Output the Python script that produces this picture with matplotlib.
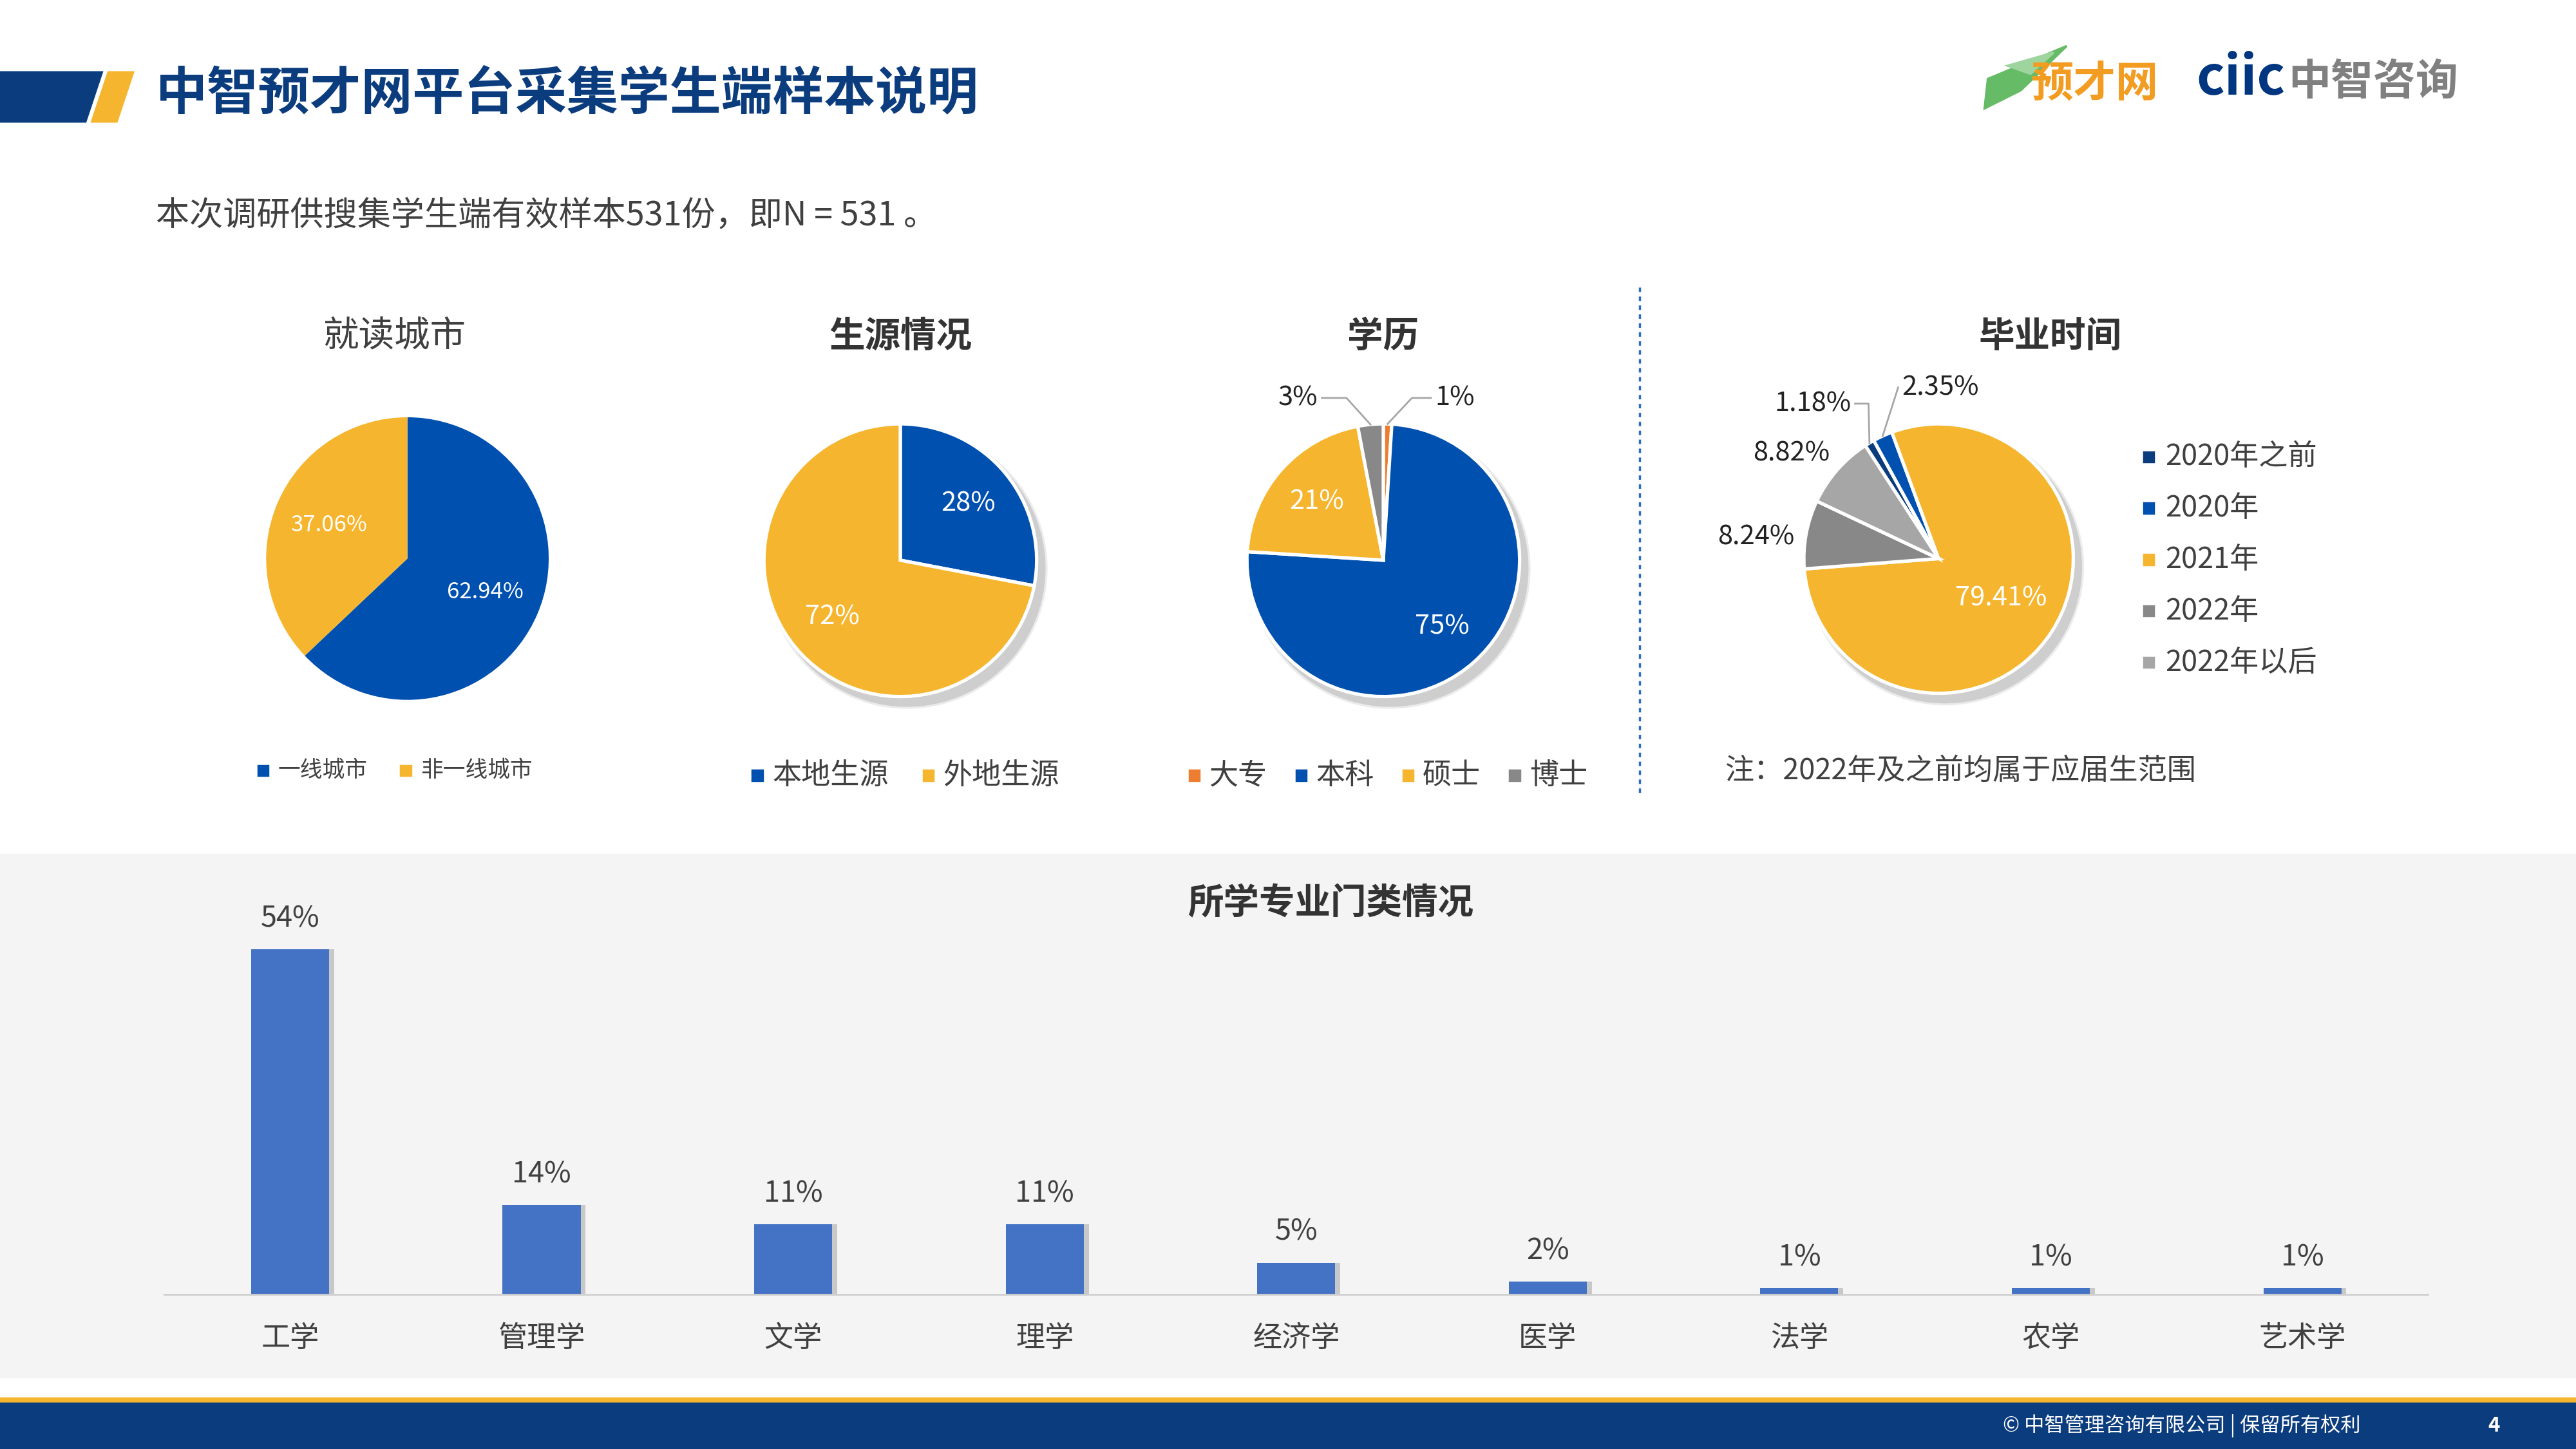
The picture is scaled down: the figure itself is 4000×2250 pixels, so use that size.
import numpy as np
import matplotlib
matplotlib.use("Agg")
import matplotlib.pyplot as plt
from matplotlib.patches import Rectangle, Polygon, Circle

plt.rcParams["font.family"] = ["Noto Sans CJK SC", "DejaVu Sans"]

# ---- data ----
city_labels = ["一线城市", "非一线城市"]
city_vals = [62.94, 37.06]
src_labels = ["本地生源", "外地生源"]
src_vals = [28, 72]
edu_labels = ["大专", "本科", "硕士", "博士"]
edu_vals = [1, 75, 21, 3]
grad_labels = ["2020年之前", "2020年", "2021年", "2022年", "2022年以后"]
grad_vals = [1.18, 2.35, 79.41, 8.24, 8.82]
major_labels = ["工学", "管理学", "文学", "理学", "经济学", "医学", "法学", "农学", "艺术学"]
major_vals = [54, 14, 11, 11, 5, 2, 1, 1, 1]

NAVY = "#0B3C7D"
BLUE = "#0050B0"
YEL = "#F6B52E"
GRAY = "#888888"
LGRAY = "#A6A6A6"
TXT = "#404040"

W, H = 1568, 882
fig = plt.figure(figsize=(16, 9), dpi=250)
bg = fig.add_axes([0, 0, 1, 1])
bg.set_xlim(0, W); bg.set_ylim(H, 0); bg.axis("off")


def fax(x0, y0, w, h):
    return fig.add_axes([x0 / W, 1 - (y0 + h) / H, w / W, h / H])


# header
bg.add_patch(Polygon([(0, 44), (62, 44), (52, 74), (0, 74)], color=NAVY))
bg.add_patch(Polygon([(66, 44), (81, 44), (71, 74), (56, 74)], color=YEL))
bg.text(95, 57, "中智预才网平台采集学生端样本说明", fontsize=23, fontweight="bold",
        color=NAVY, va="center")
bg.text(95, 131, "本次调研供搜集学生端有效样本531份，即N = 531 。", fontsize=15,
        color=TXT, va="center", fontweight="light")
# logos
bg.add_patch(Polygon([(1210, 48), (1258, 28), (1230, 55), (1208, 66)], color="#66BB66"))
bg.add_patch(Polygon([(1222, 40), (1250, 32), (1236, 45)], color="#9ED49E"))
bg.text(1236, 51, "预才网", fontsize=19, fontweight="bold", color="#F39C22",
        style="italic", va="center")
bg.text(1337, 48, "ciic", fontsize=24, fontweight="bold", color="#003580", va="center")
bg.text(1393, 50, "中智咨询", fontsize=19, fontweight="bold", color="#808080", va="center")

# gray panel, footer
bg.add_patch(Rectangle((0, 520), W, 318, color="#F4F4F4", zorder=0))
bg.add_patch(Rectangle((0, 851), W, 3, color=YEL))
bg.add_patch(Rectangle((0, 854), W, 28, color=NAVY))
bg.text(1437, 868, "© 中智管理咨询有限公司 | 保留所有权利", fontsize=9, color="white",
        ha="right", va="center")
bg.text(1518, 868, "4", fontsize=9, color="white", ha="center", va="center",
        fontweight="bold")
bg.plot([998, 998], [175, 485], ls=(0, (2, 2)), color="#2E6CC4", lw=1)


def pie(cx, cy, r, vals, colors, start, edge, shadow):
    ax = fax(cx - r * 1.1, cy - r * 1.1, r * 2.2, r * 2.2)
    if shadow:
        for k, a in [(1.03, 0.08), (1.015, 0.12)]:
            ax.add_patch(Circle((0.05, -0.06), k, color="black", alpha=a, lw=0))
    wedges, _ = ax.pie(vals, colors=colors, startangle=start, counterclock=False,
                       wedgeprops=dict(edgecolor="white" if edge else "none",
                                       linewidth=1.5))
    ax.set_xlim(-1.1, 1.1); ax.set_ylim(-1.1, 1.1); ax.set_aspect("equal")
    ax.axis("off")
    return ax, wedges


def inner(ax, w, txt, d, fs, color="white"):
    a = np.deg2rad((w.theta1 + w.theta2) / 2)
    ax.text(d * np.cos(a), d * np.sin(a), txt, ha="center", va="center",
            fontsize=fs, color=color, fontweight="light")


def legend_row(x, y, labels, colors, fs, gap):
    for lab, c in zip(labels, colors):
        bg.add_patch(Rectangle((x, y - 3), 6, 6, color=c))
        bg.text(x + 12, y, lab, fontsize=fs, color=TXT, va="center", fontweight="light")
        x += gap(lab)


# 就读城市
bg.text(240, 205, "就读城市", fontsize=16, color=TXT, ha="center", va="center",
        fontweight="light")
ax, ws = pie(248, 340, 86, city_vals, [BLUE, YEL], 90, False, False)
inner(ax, ws[0], f"{city_vals[0]:.2f}%", 0.6, 10)
inner(ax, ws[1], f"{city_vals[1]:.2f}%", 0.6, 10)
legend_row(157, 469, city_labels, [BLUE, YEL], 10, lambda s: 87)

# 生源情况
bg.text(548, 205, "生源情况", fontsize=16, color="#333333", ha="center", va="center",
        fontweight="bold")
ax, ws = pie(548, 341, 83, src_vals, [BLUE, YEL], 90, True, True)
for w, v in zip(ws, src_vals):
    inner(ax, w, f"{v}%", 0.65, 12)
legend_row(458, 472, src_labels, [BLUE, YEL], 13, lambda s: 104)

# 学历
bg.text(842, 205, "学历", fontsize=16, color="#333333", ha="center", va="center",
        fontweight="bold")
ax, ws = pie(842, 341, 83, edu_vals, ["#ED7D31", BLUE, YEL, GRAY], 90, True, True)
inner(ax, ws[1], f"{edu_vals[1]}%", 0.65, 12)
inner(ax, ws[2], f"{edu_vals[2]}%", 0.65, 12)
for w, v, tx, ty, ha in [(ws[3], edu_vals[3], -0.45, 1.19, "right"),
                          (ws[0], edu_vals[0], 0.35, 1.19, "left")]:
    a = np.deg2rad((w.theta1 + w.theta2) / 2)
    ax.plot([np.cos(a), tx * 0.6, tx], [np.sin(a), ty, ty], color="#A6A6A6", lw=0.8,
            clip_on=False)
    ax.text(tx + (-0.03 if ha == "right" else 0.03), ty, f"{v}%", ha=ha, va="center",
            fontsize=12, color="#222222", clip_on=False, fontweight="light")
legend_row(724, 472, edu_labels, ["#ED7D31", BLUE, YEL, GRAY], 13, lambda s: 65)

# 毕业时间
bg.text(1248, 205, "毕业时间", fontsize=16, color="#333333", ha="center", va="center",
        fontweight="bold")
ax, ws = pie(1180, 340, 82, grad_vals, [NAVY, BLUE, YEL, GRAY, LGRAY], 123, True, True)
inner(ax, ws[2], f"{grad_vals[2]:.2f}%", 0.55, 12)
for w, v, tx, ty, ha, line in [(ws[0], grad_vals[0], -0.62, 1.15, "right", True),
                                (ws[1], grad_vals[1], -0.3, 1.27, "left", True),
                                (ws[4], grad_vals[4], -0.78, 0.78, "right", False),
                                (ws[3], grad_vals[3], -1.04, 0.16, "right", False)]:
    a = np.deg2rad((w.theta1 + w.theta2) / 2)
    if line:
        ax.plot([np.cos(a), tx + (0.1 if ha == "right" else 0), tx],
                [np.sin(a), ty, ty], color="#A6A6A6", lw=0.8, clip_on=False)
    ax.text(tx + (-0.03 if ha == "right" else 0.03), ty, f"{v:.2f}%", ha=ha,
            va="center", fontsize=12, color="#222222", clip_on=False, fontweight="light")
for i, (lab, c) in enumerate(zip(grad_labels, [NAVY, BLUE, YEL, GRAY, LGRAY])):
    y = 278 + i * 31.3
    bg.add_patch(Rectangle((1305, y - 3), 6, 6, color=c))
    bg.text(1318, y, lab, fontsize=13, color=TXT, va="center", fontweight="light")
bg.text(1050, 469, "注：2022年及之前均属于应届生范围", fontsize=13, color=TXT,
        va="center", fontweight="light")

# 所学专业门类情况
bg.text(810, 550, "所学专业门类情况", fontsize=16, color="#333333", ha="center",
        va="center", fontweight="bold")
bx = fax(100, 560, 1378, 228)
bx.set_facecolor("none")
xs = np.arange(len(major_vals))
bx.bar(xs + 0.02, major_vals, width=0.31, color="#C8C8C8", zorder=1)
bars = bx.bar(xs, major_vals, width=0.31, color="#4472C4", zorder=2)
for b, v in zip(bars, major_vals):
    bx.text(b.get_x() + b.get_width() / 2, v + 2.5, f"{v}%", ha="center",
            va="bottom", fontsize=13, color=TXT, fontweight="light")
bx.set_xlim(-0.5, len(major_vals) - 0.5)
bx.set_ylim(0, 58.6)
bx.set_yticks([])
bx.set_xticks(xs, major_labels, fontsize=13, color=TXT, fontweight="light")
bx.tick_params(axis="x", length=0, pad=13)
for s in ["top", "right", "left"]:
    bx.spines[s].set_visible(False)
bx.spines["bottom"].set_color("#D0D0D0")

fig.savefig("out.png", dpi=250)
